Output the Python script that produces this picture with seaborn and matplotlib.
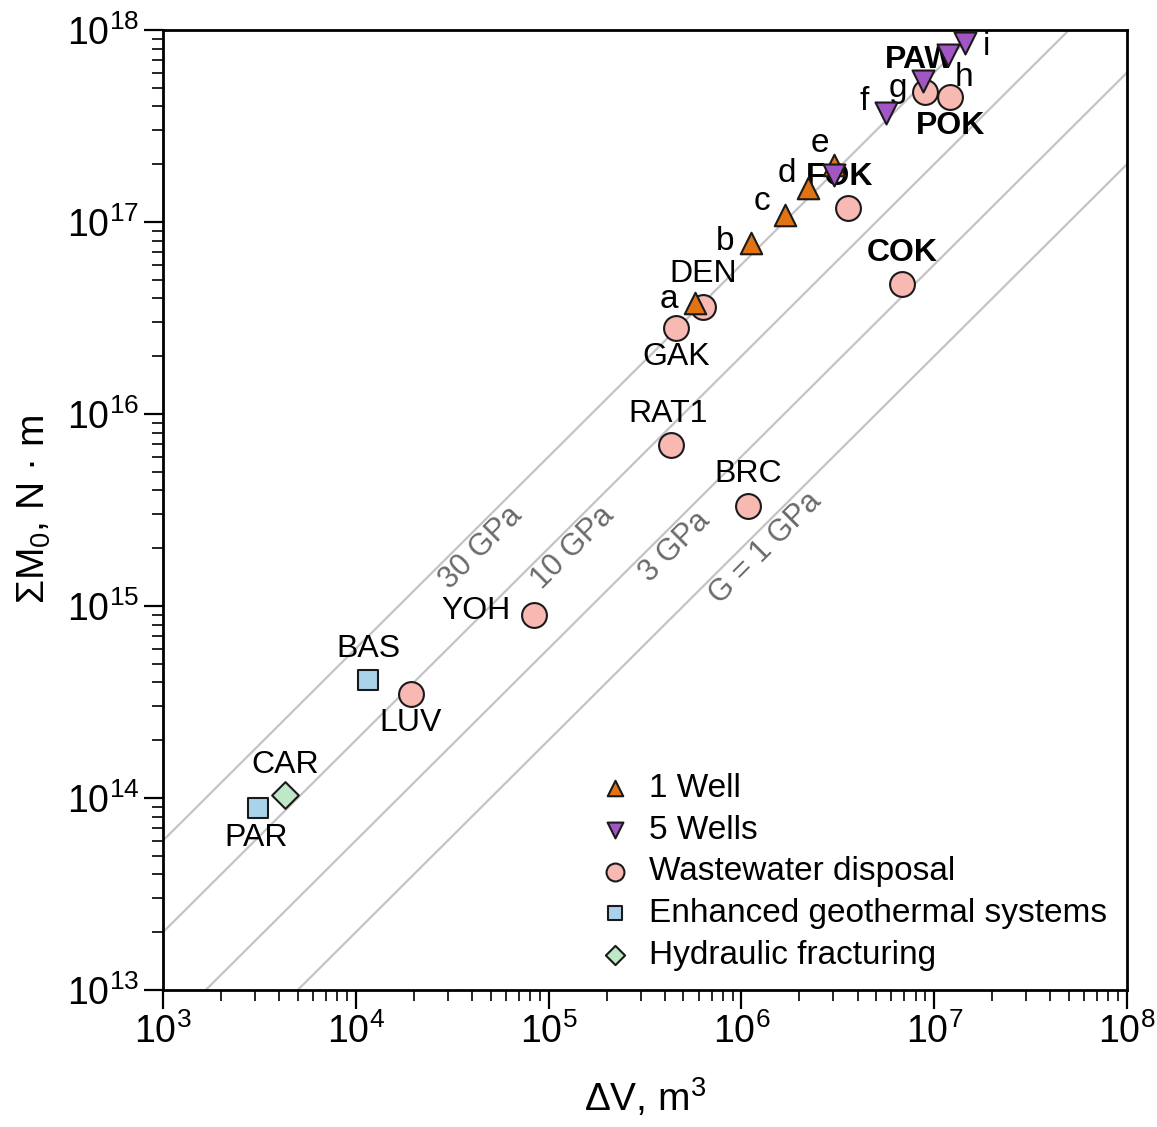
import numpy as np
import pandas as pd
import matplotlib
matplotlib.use("Agg")
import matplotlib.pyplot as plt
from matplotlib import font_manager as fm
from matplotlib.ticker import LogLocator, NullFormatter
import seaborn as sns

# values
ww_names = ["GAK", "DEN", "RAT1", "BRC", "YOH", "LUV", "COK", "FOK", "PAW", "POK"]
ww_dv = [4.6e5, 6.3e5, 4.3e5, 1.08e6, 8.4e4, 1.93e4, 6.8e6, 3.57e6, 8.95e6, 1.21e7]
ww_m0 = [2.8e16, 3.6e16, 6.9e15, 3.3e15, 9.0e14, 3.5e14, 4.75e16, 1.18e17, 4.75e17, 4.5e17]

egs_names = ["BAS", "PAR"]
egs_dv = [1.16e4, 3.1e3]
egs_m0 = [4.1e14, 8.9e13]

hf_names = ["CAR"]
hf_dv = [4.3e3]
hf_m0 = [1.04e14]

well1_names = ["a", "b", "c", "d", "e"]
well1_dv = [5.74e5, 1.12e6, 1.68e6, 2.21e6, 3.02e6]
well1_m0 = [3.8e16, 7.8e16, 1.09e17, 1.5e17, 1.98e17]

well5_names = ["", "f", "g", "h", "i"]
well5_dv = [3.02e6, 5.62e6, 8.75e6, 1.18e7, 1.45e7]
well5_m0 = [1.76e17, 3.7e17, 5.4e17, 7.4e17, 8.55e17]

# reference lines: sum M0 = 2 G dV
moduli = [30e9, 10e9, 3e9, 1e9]
moduli_labels = ["30 GPa", "10 GPa", "3 GPa", "G = 1 GPa"]
moduli_label_dv = [3.87e4, 1.16e5, 3.92e5, 1.16e6]

bold_names = {"COK", "FOK", "PAW", "POK"}
# label offsets in pixels (dx, dy)
offsets = {
    "GAK": (0, -29), "DEN": (0, 33), "RAT1": (-3, 31), "BRC": (0, 32),
    "YOH": (-58, 4), "LUV": (0, -29), "COK": (0, 31), "FOK": (-8, 31),
    "PAW": (-5, 32), "POK": (0, -29), "BAS": (0, 31), "PAR": (-2, -30),
    "CAR": (0, 30),
    "a": (-26, 3), "b": (-26, 1), "c": (-23, 13), "d": (-21, 15), "e": (-14, 22),
    "f": (-22, 11), "g": (-25, -7), "h": (16, -22), "i": (21, -3),
}

sns.set_theme(style="ticks")
names_avail = {f.name for f in fm.fontManager.ttflist}
narrow = "Liberation Sans Narrow" if "Liberation Sans Narrow" in names_avail else "Liberation Sans"
plt.rcParams["font.family"] = ["Liberation Sans", "DejaVu Sans"]
plt.rcParams["text.color"] = "black"
plt.rcParams["mathtext.fontset"] = "custom"
plt.rcParams["mathtext.rm"] = "Liberation Sans"
plt.rcParams["mathtext.it"] = "Liberation Sans:italic"
plt.rcParams["mathtext.bf"] = "Liberation Sans:bold"

fig = plt.figure(figsize=(11.57, 11.27), dpi=100)
ax = fig.add_axes([0.1409, 0.1216, 0.8332, 0.8518])
ax.set_xscale("log")
ax.set_yscale("log")

# shear modulus lines
dv_line = np.logspace(2, 9, 60)
for G, lab, ldv in zip(moduli, moduli_labels, moduli_label_dv):
    ax.plot(dv_line, 2 * G * dv_line, color="#c4c4c4", lw=1.6, zorder=1)
    ax.annotate(lab, (ldv, 2 * G * ldv), xytext=(12, -12), textcoords="offset pixels",
                rotation=45, rotation_mode="anchor", ha="center", va="center",
                fontsize=22, color="#6a6a6a", zorder=2)

edge = dict(edgecolor="#1a1a1a", linewidth=1.5, zorder=5)
ww = pd.DataFrame({"dv": ww_dv, "m0": ww_m0})
egs = pd.DataFrame({"dv": egs_dv, "m0": egs_m0})
hf = pd.DataFrame({"dv": hf_dv, "m0": hf_m0})
w1 = pd.DataFrame({"dv": well1_dv, "m0": well1_m0})
w5 = pd.DataFrame({"dv": well5_dv, "m0": well5_m0})

sns.scatterplot(data=ww, x="dv", y="m0", marker="o", s=320, color="#f8b9b3",
                label="Wastewater disposal", ax=ax, **edge)
sns.scatterplot(data=egs, x="dv", y="m0", marker="s", s=200, color="#a9d3ea",
                label="Enhanced geothermal systems", ax=ax, **edge)
sns.scatterplot(data=hf, x="dv", y="m0", marker="D", s=185, color="#bfe8c6",
                label="Hydraulic fracturing", ax=ax, **edge)
sns.scatterplot(data=w1, x="dv", y="m0", marker="^", s=240, color="#e27312",
                label="1 Well", ax=ax, **edge)
sns.scatterplot(data=w5, x="dv", y="m0", marker="v", s=250, color="#a256c4",
                label="5 Wells", ax=ax, **edge)

for names, xs, ys in [(ww_names, ww_dv, ww_m0), (egs_names, egs_dv, egs_m0),
                      (hf_names, hf_dv, hf_m0)]:
    for n, x, y in zip(names, xs, ys):
        ax.annotate(n, (x, y), xytext=offsets[n], textcoords="offset pixels",
                    ha="center", va="center", fontsize=23,
                    fontweight="bold" if n in bold_names else "normal",
                    color="black", zorder=3)
for names, xs, ys in [(well1_names, well1_dv, well1_m0), (well5_names, well5_dv, well5_m0)]:
    for n, x, y in zip(names, xs, ys):
        if not n:
            continue
        ax.annotate(n, (x, y), xytext=offsets[n], textcoords="offset pixels",
                    ha="center", va="center", fontsize=24, family=narrow,
                    color="black", zorder=3)

ax.set_xlim(1e3, 1e8)
ax.set_ylim(1e13, 1e18)

ax.xaxis.set_major_locator(LogLocator(base=10, numticks=10))
ax.yaxis.set_major_locator(LogLocator(base=10, numticks=10))
ax.xaxis.set_minor_locator(LogLocator(base=10, subs=np.arange(2, 10), numticks=20))
ax.yaxis.set_minor_locator(LogLocator(base=10, subs=np.arange(2, 10), numticks=20))
ax.xaxis.set_minor_formatter(NullFormatter())
ax.yaxis.set_minor_formatter(NullFormatter())
ax.tick_params(which="major", direction="out", length=14, width=1.6, labelsize=27,
               color="black", labelcolor="black", pad=3)
ax.tick_params(which="minor", direction="out", length=8, width=1.2, color="black")
ax.tick_params(axis="x", which="both", top=False)
ax.tick_params(axis="y", which="both", right=False)

for sp in ax.spines.values():
    sp.set_visible(True)
    sp.set_linewidth(2)
    sp.set_color("black")

ax.set_xlabel(r"ΔV, m$^3$", fontsize=28, labelpad=18, color="black")
ax.set_ylabel(r"ΣM$_0$, N · m", fontsize=28, labelpad=10, color="black", family=narrow)

handles, labels = ax.get_legend_handles_labels()
order = ["1 Well", "5 Wells", "Wastewater disposal", "Enhanced geothermal systems",
         "Hydraulic fracturing"]
hmap = dict(zip(labels, handles))
leg = ax.legend([hmap[o] for o in order], order, loc="upper left",
                bbox_to_anchor=(0.452, 0.226), frameon=False, fontsize=24,
                markerscale=0.72, handlelength=1.0, handletextpad=0.5,
                labelspacing=0.32, borderpad=0, borderaxespad=0)
for t in leg.get_texts():
    t.set_color("black")
for t in leg.get_texts()[:2]:
    t.set_family(narrow)

fig.savefig("out.png", dpi=100)
